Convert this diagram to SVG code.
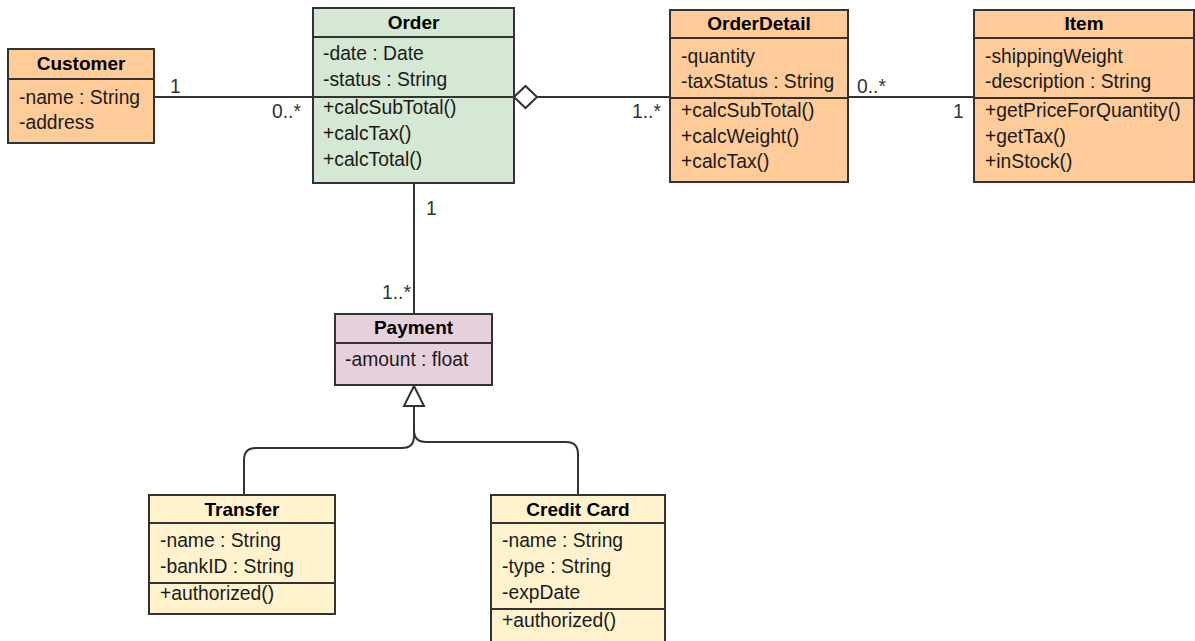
<svg xmlns="http://www.w3.org/2000/svg" width="1195" height="641" viewBox="0 0 1195 641">
<style>
  .box { stroke: #333333; stroke-width: 2; }
  .sep { stroke: #333333; stroke-width: 2; }
  .orange { fill: #ffcc99; }
  .green { fill: #d5e8d4; }
  .purple { fill: #e6d0de; }
  .yellow { fill: #fff2cc; }
  text { font-family: "Liberation Sans", Arial, sans-serif; font-size: 19.3px; fill: #1a1a1a; }
  .title { font-weight: bold; font-size: 19px; text-anchor: middle; fill: #000000; }
  .lbl { fill: #333333; }
  .edge { fill: none; stroke: #333333; stroke-width: 2; }
  .head { fill: #ffffff; stroke: #333333; stroke-width: 2; }
</style>
<rect width="1195" height="641" fill="#ffffff"/>

<g id="connectors">
  <path class="edge" d="M154,97 H313"/>
  <path class="edge" d="M537,97 H670"/>
  <polygon class="head" points="514,97 525.5,86 537,97 525.5,108"/>
  <path class="edge" d="M848,97 H974"/>
  <path class="edge" d="M414,183 V314"/>
  <path class="edge" d="M244,495 V460 Q244,448 256,448 H402 Q414,448 414,436 V406"/>
  <path class="edge" d="M578,495 V454 Q578,442 566,442 H426 Q414,442 414,430 V406"/>
  <polygon class="head" points="414,386 404,406 424,406"/>
  <text class="lbl" x="170" y="93">1</text>
  <text class="lbl" x="272" y="118">0..*</text>
  <text class="lbl" x="632" y="118">1..*</text>
  <text class="lbl" x="857" y="93">0..*</text>
  <text class="lbl" x="953" y="118">1</text>
  <text class="lbl" x="426" y="215">1</text>
  <text class="lbl" x="382" y="299">1..*</text>
</g>

<g id="customer">
  <rect class="box orange" x="8" y="49" width="146" height="94"/>
  <line class="sep" x1="8" y1="79" x2="154" y2="79"/>
  <text class="title" x="81" y="70">Customer</text>
  <text x="19" y="104">-name : String</text>
  <text x="19" y="129">-address</text>
</g>

<g id="order">
  <rect class="box green" x="313" y="8" width="201" height="175"/>
  <line class="sep" x1="313" y1="37" x2="514" y2="37"/>
  <line class="sep" x1="313" y1="97" x2="514" y2="97"/>
  <text class="title" x="413.5" y="29">Order</text>
  <text x="323" y="60">-date : Date</text>
  <text x="323" y="86">-status : String</text>
  <text x="323" y="114">+calcSubTotal()</text>
  <text x="323" y="140">+calcTax()</text>
  <text x="323" y="166">+calcTotal()</text>
</g>

<g id="orderdetail">
  <rect class="box orange" x="670" y="10" width="178" height="172"/>
  <line class="sep" x1="670" y1="38" x2="848" y2="38"/>
  <line class="sep" x1="670" y1="98" x2="848" y2="98"/>
  <text class="title" x="759" y="30">OrderDetail</text>
  <text x="681" y="63">-quantity</text>
  <text x="681" y="88">-taxStatus : String</text>
  <text x="681" y="117">+calcSubTotal()</text>
  <text x="681" y="143">+calcWeight()</text>
  <text x="681" y="168">+calcTax()</text>
</g>

<g id="item">
  <rect class="box orange" x="974" y="10" width="220" height="172"/>
  <line class="sep" x1="974" y1="38" x2="1194" y2="38"/>
  <line class="sep" x1="974" y1="98" x2="1194" y2="98"/>
  <text class="title" x="1084" y="30">Item</text>
  <text x="985" y="63">-shippingWeight</text>
  <text x="985" y="88">-description : String</text>
  <text x="985" y="117">+getPriceForQuantity()</text>
  <text x="985" y="143">+getTax()</text>
  <text x="985" y="168">+inStock()</text>
</g>

<g id="payment">
  <rect class="box purple" x="335" y="314" width="157" height="71"/>
  <line class="sep" x1="335" y1="343" x2="492" y2="343"/>
  <text class="title" x="413.5" y="334">Payment</text>
  <text x="345" y="366">-amount : float</text>
</g>

<g id="transfer">
  <rect class="box yellow" x="149" y="495" width="186" height="119"/>
  <line class="sep" x1="149" y1="523" x2="335" y2="523"/>
  <line class="sep" x1="149" y1="583" x2="335" y2="583"/>
  <text class="title" x="242" y="516">Transfer</text>
  <text x="160" y="547">-name : String</text>
  <text x="160" y="573">-bankID : String</text>
  <text x="160" y="600">+authorized()</text>
</g>

<g id="creditcard">
  <rect class="box yellow" x="491" y="495" width="174" height="170"/>
  <line class="sep" x1="491" y1="523" x2="665" y2="523"/>
  <line class="sep" x1="491" y1="609" x2="665" y2="609"/>
  <text class="title" x="578" y="516">Credit Card</text>
  <text x="502" y="547">-name : String</text>
  <text x="502" y="573">-type : String</text>
  <text x="502" y="599">-expDate</text>
  <text x="502" y="627">+authorized()</text>
</g>
</svg>
